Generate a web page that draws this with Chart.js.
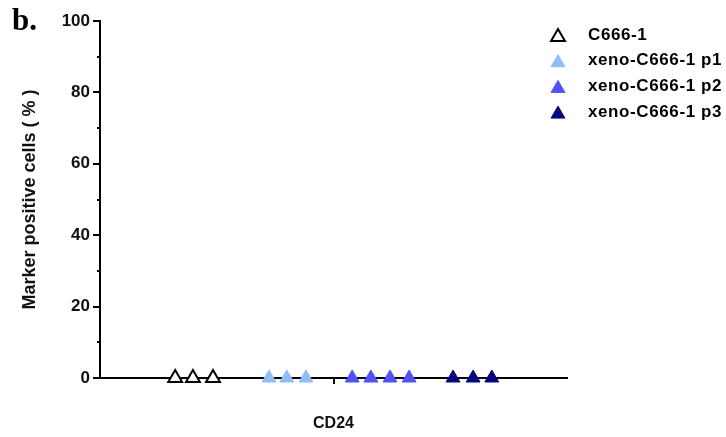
<!DOCTYPE html>
<html>
<head>
<meta charset="utf-8">
<script src="https://cdn.jsdelivr.net/npm/chart.js@4/dist/chart.umd.min.js"></script>
<style>
  html, body { margin: 0; padding: 0; background: #fff; }
  #wrap { width: 726px; height: 437px; position: relative; }
</style>
</head>
<body>
<div id="wrap"><canvas id="c" width="726" height="437"></canvas></div>
<script>
// ---- data ----
const category = 'CD24';
const seriesNames = ['C666-1', 'xeno-C666-1 p1', 'xeno-C666-1 p2', 'xeno-C666-1 p3'];
// horizontal scatter (jitter) positions of each replicate within the CD24 column, on a 0-100 axis
const c666Pos   = [16.1, 19.9, 24.2];
const p1Pos     = [36.2, 40.0, 44.1];
const p2Pos     = [54.0, 58.0, 62.1, 66.2];
const p3Pos     = [75.6, 79.9, 83.9];
// marker positive cells (%)
const c666Vals  = [0, 0, 0];
const p1Vals    = [0, 0, 0];
const p2Vals    = [0, 0, 0, 0];
const p3Vals    = [0, 0, 0];
const yTicks    = [0, 20, 40, 60, 80, 100];
const yMinor    = [10, 30, 50, 70, 90];

const fills   = ['#ffffff', '#8fbdf7', '#5151f5', '#06067e'];
const borders = ['#000000', '#8fbdf7', '#5151f5', '#06067e'];

function pts(xs, ys) { return xs.map((x, i) => ({ x: x, y: ys[i] })); }
const allPos = [c666Pos, p1Pos, p2Pos, p3Pos];
const allVals = [c666Vals, p1Vals, p2Vals, p3Vals];

const datasets = seriesNames.map((name, i) => ({
  label: name,
  data: pts(allPos[i], allVals[i]),
  pointStyle: 'triangle',
  pointRadius: 8,
  pointHoverRadius: 8,
  backgroundColor: fills[i],
  borderColor: borders[i],
  pointBorderWidth: i === 0 ? 2 : 1,
  showLine: false,
  clip: false
}));

const FONT = '"Liberation Sans", Arial, Helvetica, sans-serif';

const extras = {
  id: 'extras',
  afterDraw(chart) {
    const ctx = chart.ctx;
    const ys = chart.scales.y;
    // minor ticks on y axis
    ctx.save();
    ctx.strokeStyle = '#000';
    ctx.lineWidth = 2;
    yMinor.forEach(v => {
      const py = Math.round(ys.getPixelForValue(v));
      ctx.beginPath();
      ctx.moveTo(ys.right - 3, py);
      ctx.lineTo(ys.right, py);
      ctx.stroke();
    });
    ctx.restore();

    // panel label
    ctx.save();
    ctx.fillStyle = '#000';
    ctx.font = 'bold 31px "Liberation Serif", "Times New Roman", serif';
    ctx.textBaseline = 'alphabetic';
    ctx.fillText('b.', 12, 30);
    ctx.restore();

    // legend
    ctx.save();
    const lx = 558, tx = 588, ly0 = 35, step = 25.7;
    chart.data.datasets.forEach((ds, i) => {
      const y = ly0 + i * step;
      const opts = {
        pointStyle: 'triangle', radius: 8, rotation: 0, borderWidth: ds.pointBorderWidth
      };
      ctx.fillStyle = ds.backgroundColor;
      ctx.strokeStyle = ds.borderColor;
      ctx.lineWidth = ds.pointBorderWidth;
      Chart.helpers.drawPoint(ctx, opts, lx, y + 2);
      ctx.fillStyle = '#000';
      ctx.font = 'bold 17px ' + FONT;
      if ('letterSpacing' in ctx) ctx.letterSpacing = '0.6px';
      ctx.textBaseline = 'middle';
      ctx.textAlign = 'left';
      ctx.fillText(ds.label, tx, y);
      if ('letterSpacing' in ctx) ctx.letterSpacing = '0px';
    });
    ctx.restore();
  }
};

new Chart(document.getElementById('c'), {
  type: 'scatter',
  data: { datasets: datasets },
  options: {
    responsive: false,
    animation: false,
    layout: { padding: { left: 0, right: 159, top: 21, bottom: 0 } },
    plugins: { legend: { display: false }, tooltip: { enabled: false } },
    scales: {
      x: {
        type: 'linear',
        min: 0, max: 100,
        afterBuildTicks: (s) => { s.ticks = [{ value: 50 }]; },
        afterFit: (s) => { s.height = 59; },
        ticks: { callback: () => '', display: true },
        grid: { display: true, drawOnChartArea: false, drawTicks: true, tickLength: 6, color: '#000', lineWidth: 2 },
        border: { display: true, color: '#000', width: 2 },
        title: {
          display: true, text: category, color: '#111',
          font: { family: FONT, size: 16, weight: 'bold' },
          padding: { top: 0, bottom: 4 }
        }
      },
      y: {
        type: 'linear',
        min: 0, max: 100,
        afterBuildTicks: (s) => { s.ticks = yTicks.map(v => ({ value: v })); },
        afterFit: (s) => { s.width = 100; },
        ticks: {
          color: '#111', padding: 3,
          font: { family: FONT, size: 17, weight: 'bold' }
        },
        grid: { display: true, drawOnChartArea: false, drawTicks: true, tickLength: 7, color: '#000', lineWidth: 2 },
        border: { display: true, color: '#000', width: 2 },
        title: {
          display: true, text: 'Marker positive cells ( % )', color: '#111',
          font: { family: FONT, size: 18, weight: 'bold' },
          padding: { top: 19, bottom: 0 }
        }
      }
    }
  },
  plugins: [extras]
});
</script>
</body>
</html>
